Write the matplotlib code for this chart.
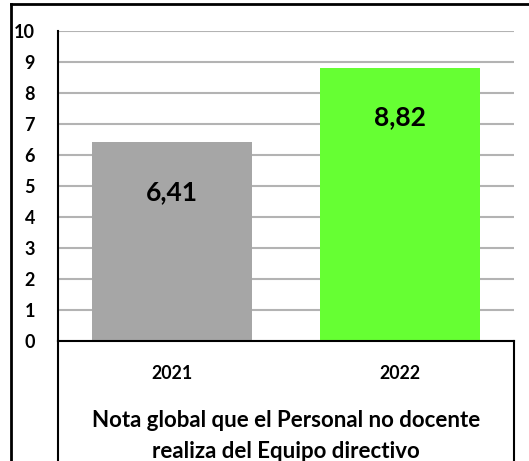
import numpy as np
import matplotlib
matplotlib.use("Agg")
import matplotlib.pyplot as plt
from matplotlib.lines import Line2D

years = ["2021", "2022"]
notas = [6.41, 8.82]
etiquetas = ["6,41", "8,82"]
colores = ["#a6a6a6", "#66ff33"]
titulo = "Nota global que el Personal no docente\nrealiza del Equipo directivo"

plt.rcParams['font.family'] = ['Lato', 'DejaVu Sans']

W, H = 529, 461
fig = plt.figure(figsize=(W / 100, H / 100), dpi=100)

# area de la grafica en pixeles
x0, x1 = 58, 514
y_top, y_bot = 31, 341
ax = fig.add_axes([x0 / W, (H - y_bot) / H, (x1 - x0) / W, (y_bot - y_top) / H])

x = np.arange(len(years))
ax.bar(x, notas, width=0.706, color=colores, zorder=2)
for xi, v, t in zip(x, notas, etiquetas):
    ax.text(xi, v - 1.6, t, ha="center", va="center", fontsize=19,
            fontweight="bold", zorder=3)

ax.set_xlim(-0.5, len(years) - 0.5)
ax.set_ylim(0, 10)
ax.set_yticks(range(0, 11))
ax.set_yticklabels([str(i) for i in range(0, 11)], fontsize=13, fontweight="bold")
ax.tick_params(axis="y", length=0, pad=16.5)
ax.set_xticks([])
ax.grid(axis="y", color="#b3b3b3", linewidth=1.5, zorder=0)
ax.set_axisbelow(True)
for s in ["top", "right"]:
    ax.spines[s].set_visible(False)
ax.spines["left"].set_linewidth(1.5)
ax.spines["bottom"].set_linewidth(1.5)

# etiquetas de categoria y titulo debajo del eje
for xi, yr in zip(x, years):
    ax.text(xi, -1.06, yr, ha="center", va="center", fontsize=12.8,
            fontweight="bold")
ax.text(0.5, -3.07, titulo, ha="center", va="center", fontsize=16,
        fontweight="bold", linespacing=1.55, clip_on=False)

# recuadro bajo el eje y marco exterior
def fx(px):
    return px / W

def fy(py):
    return (H - py) / H

fig.add_artist(Line2D([fx(x0), fx(x0)], [fy(y_bot), 0], color="black", lw=1.5))
fig.add_artist(Line2D([fx(x1), fx(x1)], [fy(y_bot), 0], color="black", lw=1.5))
fig.add_artist(Line2D([fx(11), fx(11)], [fy(4), 0], color="black", lw=2))
fig.add_artist(Line2D([fx(11), 1], [fy(4), fy(4)], color="black", lw=2))

fig.savefig("out.png", dpi=100)
